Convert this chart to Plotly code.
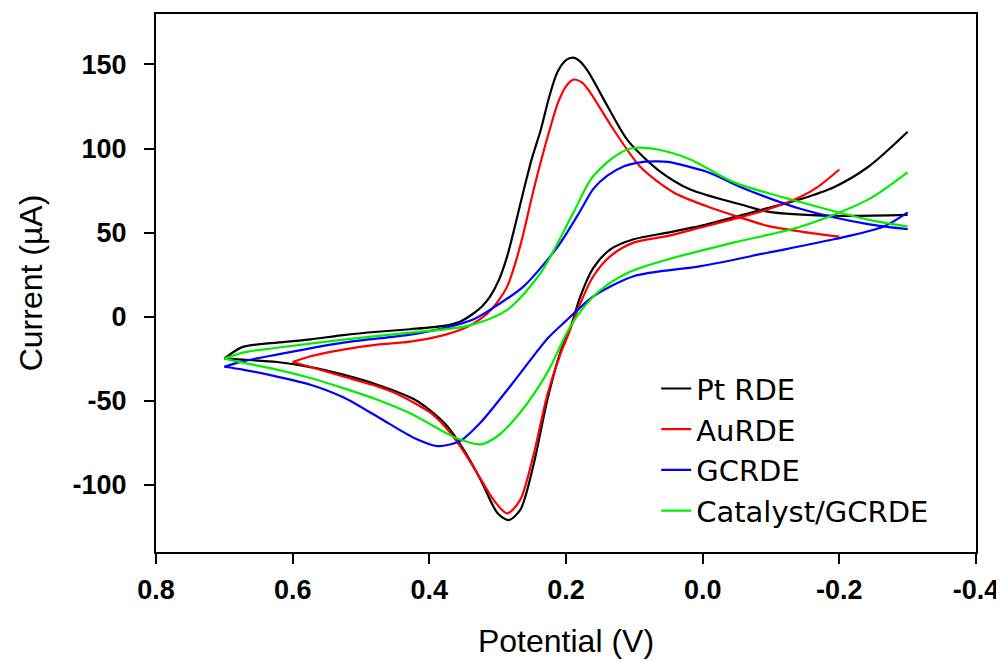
import plotly.graph_objects as go

# ---- data (potential in V, current in uA) ----
# each electrode: sweep 1 (start -> switching potential) and sweep 2 (back)
pt_sweep1_potential = [0.70, 0.673, 0.623, 0.574, 0.526, 0.476, 0.428, 0.379, 0.355, 0.335, 0.323, 0.311, 0.298, 0.286,
                       0.274, 0.262, 0.25, 0.237, 0.225, 0.213, 0.20, 0.19, 0.18, 0.168, 0.139, 0.110, 0.066, 0.018,
                       -0.056, -0.095, -0.192, -0.30]
pt_sweep1_current = [-25, -18, -15.5, -13.5, -11, -9, -7.5, -5.5, -3, 2, 6, 12, 22, 36,
                     55, 75, 94, 111, 130, 145, 152.5, 154, 152, 146, 125, 105, 87.5, 75.6,
                     66.7, 62.5, 60, 60.5]
pt_sweep2_potential = [-0.30, -0.242, -0.192, -0.144, -0.095, -0.045, 0.003, 0.051, 0.101, 0.135, 0.160, 0.179, 0.193,
                       0.208, 0.227, 0.248, 0.267, 0.284, 0.30, 0.325, 0.35, 0.374, 0.398, 0.423, 0.476, 0.526, 0.574,
                       0.623, 0.673, 0.70]
pt_sweep2_current = [110, 89, 77, 70, 64.5, 59, 54, 50, 46, 40, 29, 12, -6, -21,
                     -49, -89, -115, -121, -117, -97, -79, -65, -56, -49, -40.5, -34.5, -30,
                     -27, -25.6, -25]

au_sweep1_potential = [0.60, 0.574, 0.526, 0.476, 0.428, 0.379, 0.344, 0.322, 0.31, 0.298, 0.286, 0.274, 0.262, 0.25,
                       0.237, 0.224, 0.212, 0.2, 0.189, 0.176, 0.164, 0.130, 0.091, 0.043, -0.007, -0.051, -0.095,
                       -0.144, -0.20]
au_sweep1_current = [-27, -23.6, -19.6, -16.7, -14.9, -11, -6, -0.5, 4, 10, 18, 32, 50, 71,
                     92, 111, 127, 137, 141, 139, 133, 111, 89, 74, 65.5, 59.5, 54,
                     50.6, 47.6]
au_sweep2_potential = [-0.20, -0.168, -0.144, -0.095, -0.045, 0.003, 0.051, 0.101, 0.135, 0.160, 0.179, 0.198, 0.208,
                       0.227, 0.248, 0.267, 0.286, 0.306, 0.33, 0.355, 0.377, 0.399, 0.447, 0.476, 0.526, 0.574, 0.60]
au_sweep2_current = [87.5, 77, 71.4, 63.7, 58, 53, 48, 44, 36, 24, 8, -12, -22,
                     -46, -83, -109, -117, -109, -93, -77, -65.5, -57, -46, -41.5, -35.6, -30, -27]

gc_sweep1_potential = [0.70, 0.673, 0.623, 0.526, 0.428, 0.38, 0.335, 0.30, 0.262, 0.212, 0.179, 0.16, 0.139, 0.115,
                       0.091, 0.07, 0.051, -0.007, -0.056, -0.144, -0.242, -0.30]
gc_sweep1_current = [-29.8, -26.6, -22.6, -15.5, -10.7, -7, -1.5, 7, 18, 41.7, 63, 76, 84, 89.5,
                     91.8, 92.3, 92, 86, 77, 64, 55, 52]
gc_sweep2_potential = [-0.30, -0.265, -0.192, -0.095, 0.003, 0.101, 0.160, 0.183, 0.20, 0.227, 0.277, 0.325, 0.355,
                       0.388, 0.423, 0.474, 0.526, 0.574, 0.623, 0.673, 0.70]
gc_sweep2_current = [62, 53.6, 46, 38, 30, 24, 12, 4, -2.5, -13, -39, -63, -74,
                     -77, -72, -60, -48, -40.5, -35.7, -31.5, -29.8]

cat_sweep1_potential = [0.70, 0.673, 0.623, 0.526, 0.428, 0.344, 0.286, 0.237, 0.189, 0.164, 0.139, 0.12, 0.101, 0.066,
                        0.018, -0.045, -0.144, -0.242, -0.30]
cat_sweep1_current = [-25, -21.4, -18.5, -13.7, -9.5, -5.5, 4, 26, 62, 81.5, 92, 97.5, 100.3, 99.4,
                      93.5, 80, 68, 57.7, 53.6]
cat_sweep2_potential = [-0.30, -0.242, -0.144, -0.045, 0.051, 0.11, 0.149, 0.179, 0.198, 0.227, 0.267, 0.30, 0.325,
                        0.359, 0.379, 0.428, 0.476, 0.526, 0.574, 0.623, 0.673, 0.70]
cat_sweep2_current = [86, 69.6, 53.6, 44, 34, 26, 16, 3, -9, -33, -57, -71, -76,
                      -72.5, -68.5, -57.5, -49.4, -42.5, -36.5, -31.5, -27.4, -25]

series = [
    ("Pt RDE", pt_sweep1_potential, pt_sweep1_current, pt_sweep2_potential, pt_sweep2_current, "#000000"),
    ("AuRDE", au_sweep1_potential, au_sweep1_current, au_sweep2_potential, au_sweep2_current, "#ff0000"),
    ("GCRDE", gc_sweep1_potential, gc_sweep1_current, gc_sweep2_potential, gc_sweep2_current, "#0000ff"),
    ("Catalyst/GCRDE", cat_sweep1_potential, cat_sweep1_current, cat_sweep2_potential, cat_sweep2_current, "#00ee00"),
]

x_ticks = [0.8, 0.6, 0.4, 0.2, 0.0, -0.2, -0.4]
x_tick_labels = ["0.8", "0.6", "0.4", "0.2", "0.0", "-0.2", "-0.4"]
y_ticks = [-100, -50, 0, 50, 100, 150]
y_tick_labels = ["-100", "-50", "0", "50", "100", "150"]

fig = go.Figure()
for name, x1, y1, x2, y2, col in series:
    xs = list(x1) + [None] + list(x2)
    ys = list(y1) + [None] + list(y2)
    fig.add_trace(go.Scatter(x=xs, y=ys, mode="lines", name=name, legendgroup=name, connectgaps=False,
                             line=dict(color=col, width=2.2, shape="spline", smoothing=0.8)))

axis_common = dict(showline=True, linecolor="black", linewidth=2, mirror=True,
                   ticks="outside", ticklen=10, tickwidth=2, tickcolor="black",
                   showgrid=False, zeroline=False, automargin=False)

fig.update_layout(
    width=1004, height=662,
    margin=dict(l=148, r=36, t=6, b=118),
    paper_bgcolor="white", plot_bgcolor="white",
    xaxis=dict(range=[0.8, -0.4], tickvals=x_ticks, ticktext=x_tick_labels,
               tickfont=dict(family="Liberation Sans, Arial", size=27, color="black", weight="bold"),
               title=dict(text="Potential (V)", font=dict(family="Liberation Sans, Arial", size=32, color="black"),
                          standoff=25),
               ticklabelstandoff=3, **axis_common),
    yaxis=dict(range=[-140, 180], tickvals=y_ticks, ticktext=y_tick_labels,
               tickfont=dict(family="Liberation Sans, Arial", size=27, color="black", weight="bold"),
               title=dict(text="Current (\u00b5A)", font=dict(family="Liberation Sans, Arial", size=32, color="black"),
                          standoff=20),
               ticklabelstandoff=12, **axis_common),
    legend=dict(x=0.61, y=0.351, xanchor="left", yanchor="top", bgcolor="rgba(0,0,0,0)",
                font=dict(family="DejaVu Sans", size=29, color="black"),
                tracegroupgap=0),
    showlegend=True,
)

fig.write_html("out.html")
